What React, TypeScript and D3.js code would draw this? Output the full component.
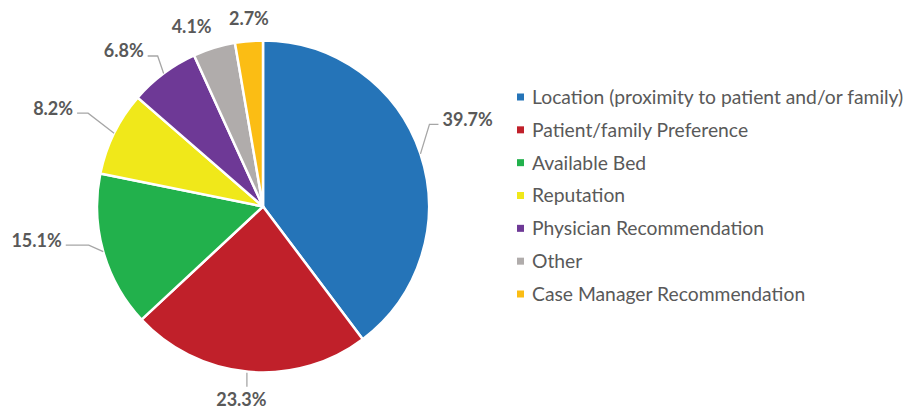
import React from "react";
import * as d3 from "d3";

const categories = [
  "Location (proximity to patient and/or family)",
  "Patient/family Preference",
  "Available Bed",
  "Reputation",
  "Physician Recommendation",
  "Other",
  "Case Manager Recommendation",
];
const values = [39.7, 23.3, 15.1, 8.2, 6.8, 4.1, 2.7];
const valueLabels = ["39.7%", "23.3%", "15.1%", "8.2%", "6.8%", "4.1%", "2.7%"];
const colors = ["#2574b8", "#c0202a", "#22b14c", "#f0e81a", "#6e3996", "#b0acab", "#fbbd14"];

// label layout relative to the slice's outer mid point
const labelLayout = [
  { dx: 22, dy: -34.5, anchor: "start", leader: "h", hlen: 9 },
  { dx: -7, dy: 28, anchor: "middle", leader: "v", hlen: 15 },
  { dx: -41.5, dy: -11.5, anchor: "end", leader: "h", hlen: 23 },
  { dx: -41, dy: -25, anchor: "end", leader: "h", hlen: 11 },
  { dx: -20, dy: -22.5, anchor: "end", leader: "h", hlen: 10 },
  { dx: -22.5, dy: -21.5, anchor: "middle", leader: "none", hlen: 0 },
  { dx: 0, dy: -23, anchor: "middle", leader: "none", hlen: 0 },
];

const W = 906;
const H = 409;
const cx = 263;
const cy = 206.5;
const R = 166;
const FONT = "Lato, 'Open Sans', sans-serif";

export default function App() {
  const pie = d3.pie<number>().sort(null).value((d) => d);
  const arcs = pie(values);
  const arcGen = d3.arc<d3.PieArcDatum<number>>().innerRadius(0).outerRadius(R);
  const edgeArc = d3.arc<d3.PieArcDatum<number>>().innerRadius(R).outerRadius(R);

  const legendY = d3.scalePoint<string>().domain(categories).range([97, 294]);

  return (
    <svg width={W} height={H} style={{ position: "absolute", left: 0, top: 0, background: "#fff" }} fontFamily={FONT}>
      <g transform={`translate(${cx},${cy})`}>
        {arcs.map((a, i) => (
          <path key={i} d={arcGen(a) || ""} fill={colors[i]} stroke="#fff" strokeWidth={2.5} strokeLinejoin="round" />
        ))}
      </g>
      {arcs.map((a, i) => {
        const [ex0, ey0] = edgeArc.centroid(a);
        const ex = cx + ex0;
        const ey = cy + ey0;
        const L = labelLayout[i];
        const lx = ex + L.dx;
        const ly = ey + L.dy;
        let leader = null;
        if (L.leader === "h") {
          const dir = L.anchor === "start" ? -1 : 1;
          const hy = ly + 5;
          const x1 = lx + dir * 4;
          const x2 = x1 + dir * L.hlen;
          leader = <polyline points={`${x1},${hy} ${x2},${hy} ${ex},${ey}`} fill="none" stroke="#a6a6a6" strokeWidth={1.3} />;
        } else if (L.leader === "v") {
          leader = <line x1={ex - 1.5} y1={ey + 1} x2={ex - 1.5} y2={ey + L.hlen} stroke="#a6a6a6" strokeWidth={1.3} />;
        }
        return (
          <g key={i}>
            {leader}
            <text x={lx} y={ly} dy="0.36em" textAnchor={L.anchor} fontSize={18} fontWeight="bold" fill="#595959">
              {valueLabels[i]}
            </text>
          </g>
        );
      })}
      {categories.map((c, i) => (
        <g key={c}>
          <rect x={517} y={(legendY(c) || 0) - 3.5} width={7} height={7} fill={colors[i]} />
          <text x={532} y={legendY(c)} dy="0.36em" fontSize={19.3} fill="#595959">
            {c}
          </text>
        </g>
      ))}
    </svg>
  );
}
